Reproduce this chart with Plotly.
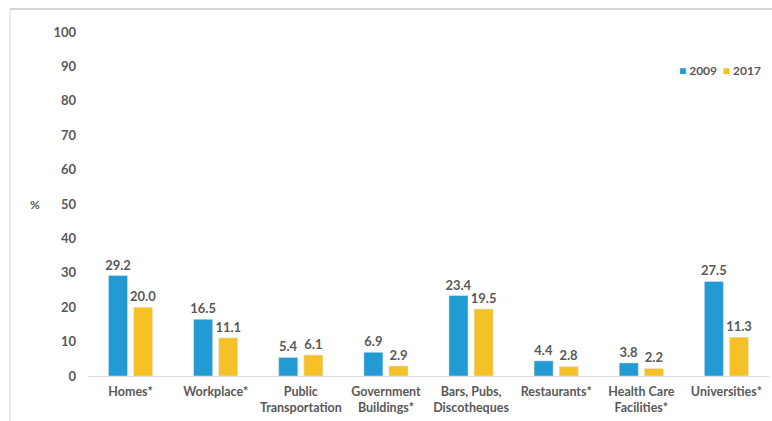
import plotly.graph_objects as go

categories = ["Homes*", "Workplace*", "Public<br>Transportation", "Government<br>Buildings*",
              "Bars, Pubs,<br>Discotheques", "Restaurants*", "Health Care<br>Facilities*", "Universities*"]
values_2009 = [29.2, 16.5, 5.4, 6.9, 23.4, 4.4, 3.8, 27.5]
values_2017 = [20.0, 11.1, 6.1, 2.9, 19.5, 2.8, 2.2, 11.3]
y_ticks = [0, 10, 20, 30, 40, 50, 60, 70, 80, 90, 100]

BLUE = "#229AD3"
YELLOW = "#F6C126"
TXT = "#595959"
FONT = "Lato"

W, H = 772, 421
L, R, T, B = 88, 3, 32, 45
pw, ph = W - L - R, H - T - B

def px_x(x):
    return (x - L) / pw

def px_y(y):
    return (H - B - y) / ph

fig = go.Figure()
fig.add_trace(go.Bar(name="2009", x=categories, y=values_2009, marker_color=BLUE,
                     text=[f"{v:.1f}" for v in values_2009], textposition="outside",
                     textfont=dict(color=TXT, size=13, family=FONT, weight="bold"), cliponaxis=False))
fig.add_trace(go.Bar(name="2017", x=categories, y=values_2017, marker_color=YELLOW,
                     text=[f"{v:.1f}" for v in values_2017], textposition="outside",
                     textfont=dict(color=TXT, size=13, family=FONT, weight="bold"), cliponaxis=False))

fig.update_layout(
    width=W, height=H,
    margin=dict(l=L, r=R, t=T, b=B, autoexpand=False),
    paper_bgcolor="white", plot_bgcolor="white",
    barmode="group", bargap=0.41, bargroupgap=0.24,
    font=dict(family=FONT, color=TXT, size=12, weight="bold"),
    showlegend=False,
    uniformtext=dict(minsize=12, mode="show"),
)
fig.update_yaxes(range=[0, 100], tickvals=y_ticks, showgrid=False, zeroline=False,
                 showline=False, ticklabelstandoff=11, automargin=False,
                 tickfont=dict(size=13, color=TXT, family=FONT, weight="bold"))
fig.update_xaxes(showline=True, linecolor="#D9D9D9", linewidth=1, showgrid=False, automargin=False,
                 tickfont=dict(size=12.5, color=TXT, family=FONT, weight="bold"), ticklabelstandoff=4)

fig.add_annotation(text="%", xref="paper", yref="paper", x=px_x(42), y=0.5, showarrow=False,
                   xanchor="right", font=dict(size=12, color=TXT, family=FONT, weight="bold"))

# legend
fig.add_annotation(
    text=f"<span style='color:{BLUE}'>■</span> 2009  <span style='color:{YELLOW}'>■</span> 2017",
    xref="paper", yref="paper", x=px_x(763), y=px_y(70), xanchor="right", yanchor="middle",
    showarrow=False, font=dict(size=12, color=TXT, family=FONT, weight="bold"))

# outer frame
fig.add_shape(type="line", xref="paper", yref="paper", x0=px_x(10), x1=px_x(772), y0=px_y(9), y1=px_y(9),
              line=dict(color="#C8C8C8", width=1.5))
fig.add_shape(type="line", xref="paper", yref="paper", x0=px_x(10), x1=px_x(10), y0=px_y(9), y1=px_y(421),
              line=dict(color="#D8D8D8", width=1))

fig.write_html("out.html", config={"displayModeBar": False},
               post_script="document.body.style.margin='0';")
